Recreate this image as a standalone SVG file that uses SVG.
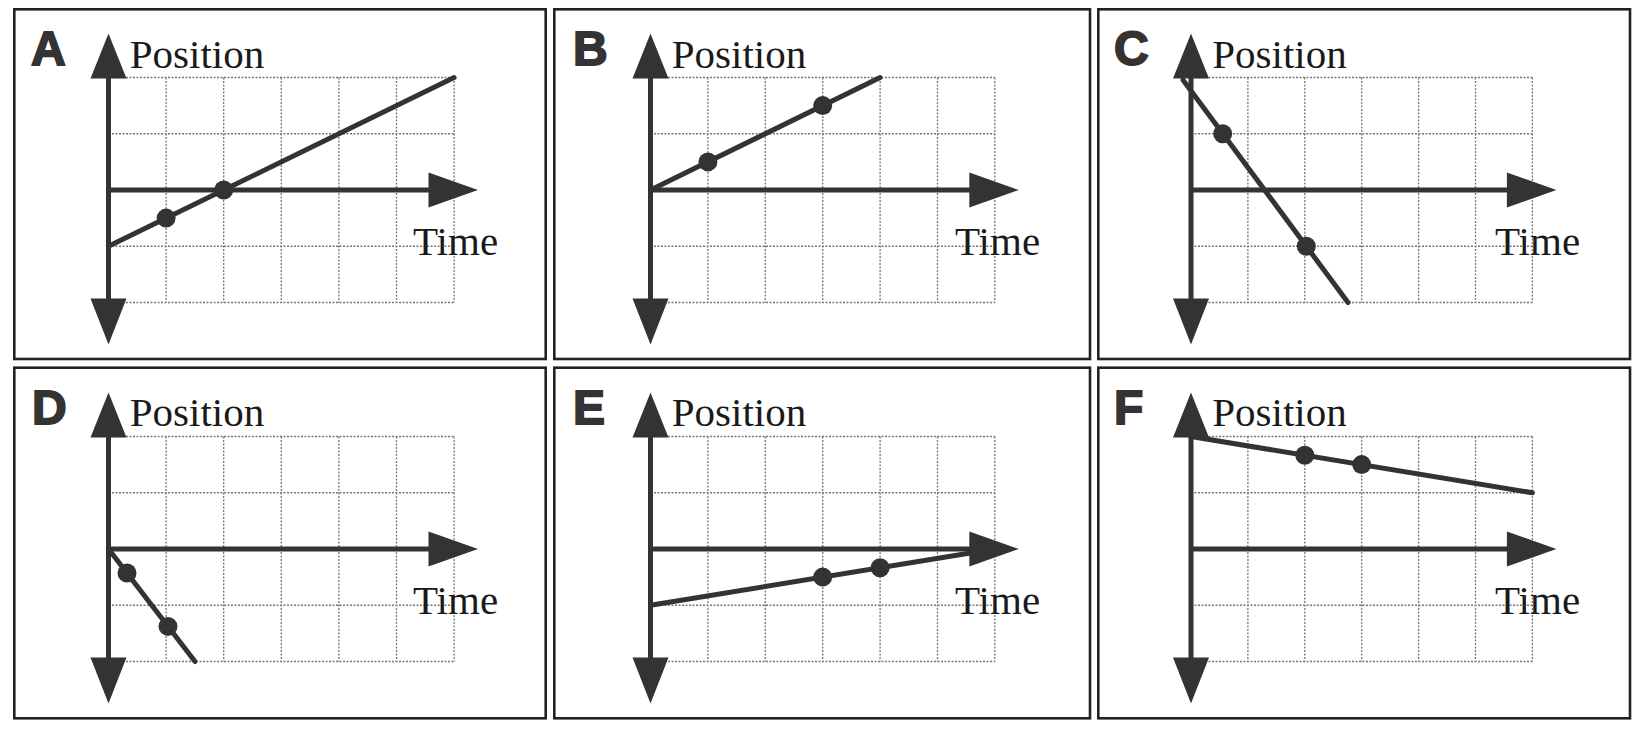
<svg xmlns="http://www.w3.org/2000/svg" width="1644" height="734" viewBox="0 0 1644 734">
<style>
.box{fill:none;stroke:#222;stroke-width:2.6}
.grid{fill:none;stroke:#777;stroke-width:1.3;stroke-dasharray:2 1.5}
.axis{fill:none;stroke:#333;stroke-width:5}
.head{fill:#333}
.data{fill:none;stroke:#333;stroke-width:5;stroke-linecap:round}
.dot{fill:#333}
.lbl{font-family:"Liberation Sans",Arial,sans-serif;font-weight:bold;font-size:48px;fill:#333;stroke:#333;stroke-width:1.8}
.txt{font-family:"Liberation Serif","Times New Roman",serif;font-size:41px;fill:#1a1a1a}
</style>
<rect width="1644" height="734" fill="#fff"/>

<g id="panel-A">
<rect class="box" x="14.3" y="9.3" width="531.4" height="349.7"/>
<path class="grid" d="M108.5 77.5H454.1M108.5 133.75H454.1M108.5 246.25H454.1M108.5 302.5H454.1M166.1 77.5V302.5M223.7 77.5V302.5M281.3 77.5V302.5M338.9 77.5V302.5M396.5 77.5V302.5M454.1 77.5V302.5"/>
<path class="axis" d="M108.5 76V300M108.5 190H430"/>
<path class="head" d="M108.5 33.5L126.5 78.5L90.5 78.5Z"/>
<path class="head" d="M108.5 344.5L126.5 298.5L90.5 298.5Z"/>
<path class="head" d="M478 190L428.5 172.5L428.5 207.5Z"/>
<path class="data" d="M108.5 246.25L454.1 77.5"/>
<circle class="dot" cx="166.1" cy="218.1" r="9.5"/>
<circle class="dot" cx="223.7" cy="190" r="9.5"/>
<text class="lbl" x="31" y="65">A</text>
<text class="txt" x="129.8" y="67.5">Position</text>
<text class="txt" x="413" y="255">Time</text>
</g>

<g id="panel-B">
<rect class="box" x="554.3" y="9.3" width="535.7" height="349.7"/>
<path class="grid" d="M650.5 77.5H994.8M650.5 133.75H994.8M650.5 246.25H994.8M650.5 302.5H994.8M707.9 77.5V302.5M765.3 77.5V302.5M822.7 77.5V302.5M880.1 77.5V302.5M937.5 77.5V302.5M994.8 77.5V302.5"/>
<path class="axis" d="M650.5 76V300M650.5 190H971"/>
<path class="head" d="M650.5 33.5L668.5 78.5L632.5 78.5Z"/>
<path class="head" d="M650.5 344.5L668.5 298.5L632.5 298.5Z"/>
<path class="head" d="M1018.8 190L969.3 172.5L969.3 207.5Z"/>
<path class="data" d="M650.5 190L880.1 77.5"/>
<circle class="dot" cx="707.9" cy="161.9" r="9.5"/>
<circle class="dot" cx="822.7" cy="105.6" r="9.5"/>
<text class="lbl" x="573" y="65">B</text>
<text class="txt" x="671.8" y="67.5">Position</text>
<text class="txt" x="955" y="255">Time</text>
</g>

<g id="panel-C">
<rect class="box" x="1098.3" y="9.3" width="531.7" height="349.7"/>
<path class="grid" d="M1191 77.5H1532.4M1191 133.75H1532.4M1191 246.25H1532.4M1191 302.5H1532.4M1247.9 77.5V302.5M1304.8 77.5V302.5M1361.7 77.5V302.5M1418.6 77.5V302.5M1475.5 77.5V302.5M1532.4 77.5V302.5"/>
<path class="axis" d="M1191 76V300M1191 190H1509"/>
<path class="data" d="M1183 80L1348 302.5"/>
<path class="head" d="M1191 33.5L1209 78.5L1173 78.5Z"/>
<path class="head" d="M1191 344.5L1209 298.5L1173 298.5Z"/>
<path class="head" d="M1556.4 190L1506.9 172.5L1506.9 207.5Z"/>
<circle class="dot" cx="1222.7" cy="133.75" r="9.5"/>
<circle class="dot" cx="1306.3" cy="246.25" r="9.5"/>
<text class="lbl" x="1114" y="65">C</text>
<text class="txt" x="1212.3" y="67.5">Position</text>
<text class="txt" x="1495" y="255">Time</text>
</g>

<g id="panel-D">
<rect class="box" x="14.3" y="367.7" width="531.4" height="350.6"/>
<path class="grid" d="M108.5 436.5H454.1M108.5 492.75H454.1M108.5 605.25H454.1M108.5 661.5H454.1M166.1 436.5V661.5M223.7 436.5V661.5M281.3 436.5V661.5M338.9 436.5V661.5M396.5 436.5V661.5M454.1 436.5V661.5"/>
<path class="axis" d="M108.5 435V659M108.5 549H430"/>
<path class="head" d="M108.5 392.5L126.5 437.5L90.5 437.5Z"/>
<path class="head" d="M108.5 703.5L126.5 657.5L90.5 657.5Z"/>
<path class="head" d="M478 549L428.5 531.5L428.5 566.5Z"/>
<path class="data" d="M108.5 549L195 661.5"/>
<circle class="dot" cx="127" cy="573" r="9.5"/>
<circle class="dot" cx="168" cy="626.4" r="9.5"/>
<text class="lbl" x="32" y="424">D</text>
<text class="txt" x="129.8" y="426">Position</text>
<text class="txt" x="413" y="614">Time</text>
</g>

<g id="panel-E">
<rect class="box" x="554.3" y="367.7" width="535.7" height="350.6"/>
<path class="grid" d="M650.5 436.5H994.8M650.5 492.75H994.8M650.5 605.25H994.8M650.5 661.5H994.8M707.9 436.5V661.5M765.3 436.5V661.5M822.7 436.5V661.5M880.1 436.5V661.5M937.5 436.5V661.5M994.8 436.5V661.5"/>
<path class="axis" d="M650.5 435V659M650.5 549H971"/>
<path class="data" d="M650.5 605.25L994.8 549"/>
<path class="head" d="M650.5 392.5L668.5 437.5L632.5 437.5Z"/>
<path class="head" d="M650.5 703.5L668.5 657.5L632.5 657.5Z"/>
<path class="head" d="M1018.8 549L969.3 531.5L969.3 566.5Z"/>
<circle class="dot" cx="822.7" cy="577.1" r="9.5"/>
<circle class="dot" cx="880.1" cy="567.75" r="9.5"/>
<text class="lbl" x="573" y="424">E</text>
<text class="txt" x="671.8" y="426">Position</text>
<text class="txt" x="955" y="614">Time</text>
</g>

<g id="panel-F">
<rect class="box" x="1098.3" y="367.7" width="531.7" height="350.6"/>
<path class="grid" d="M1191 436.5H1532.4M1191 492.75H1532.4M1191 605.25H1532.4M1191 661.5H1532.4M1247.9 436.5V661.5M1304.8 436.5V661.5M1361.7 436.5V661.5M1418.6 436.5V661.5M1475.5 436.5V661.5M1532.4 436.5V661.5"/>
<path class="axis" d="M1191 435V659M1191 549H1509"/>
<path class="data" d="M1191 436.5L1532.4 492.75"/>
<path class="head" d="M1191 392.5L1209 437.5L1173 437.5Z"/>
<path class="head" d="M1191 703.5L1209 657.5L1173 657.5Z"/>
<path class="head" d="M1556.4 549L1506.9 531.5L1506.9 566.5Z"/>
<circle class="dot" cx="1304.8" cy="455.25" r="9.5"/>
<circle class="dot" cx="1361.7" cy="464.6" r="9.5"/>
<text class="lbl" x="1114" y="424">F</text>
<text class="txt" x="1212.3" y="426">Position</text>
<text class="txt" x="1495" y="614">Time</text>
</g>

<g id="connectors"></g>
</svg>
